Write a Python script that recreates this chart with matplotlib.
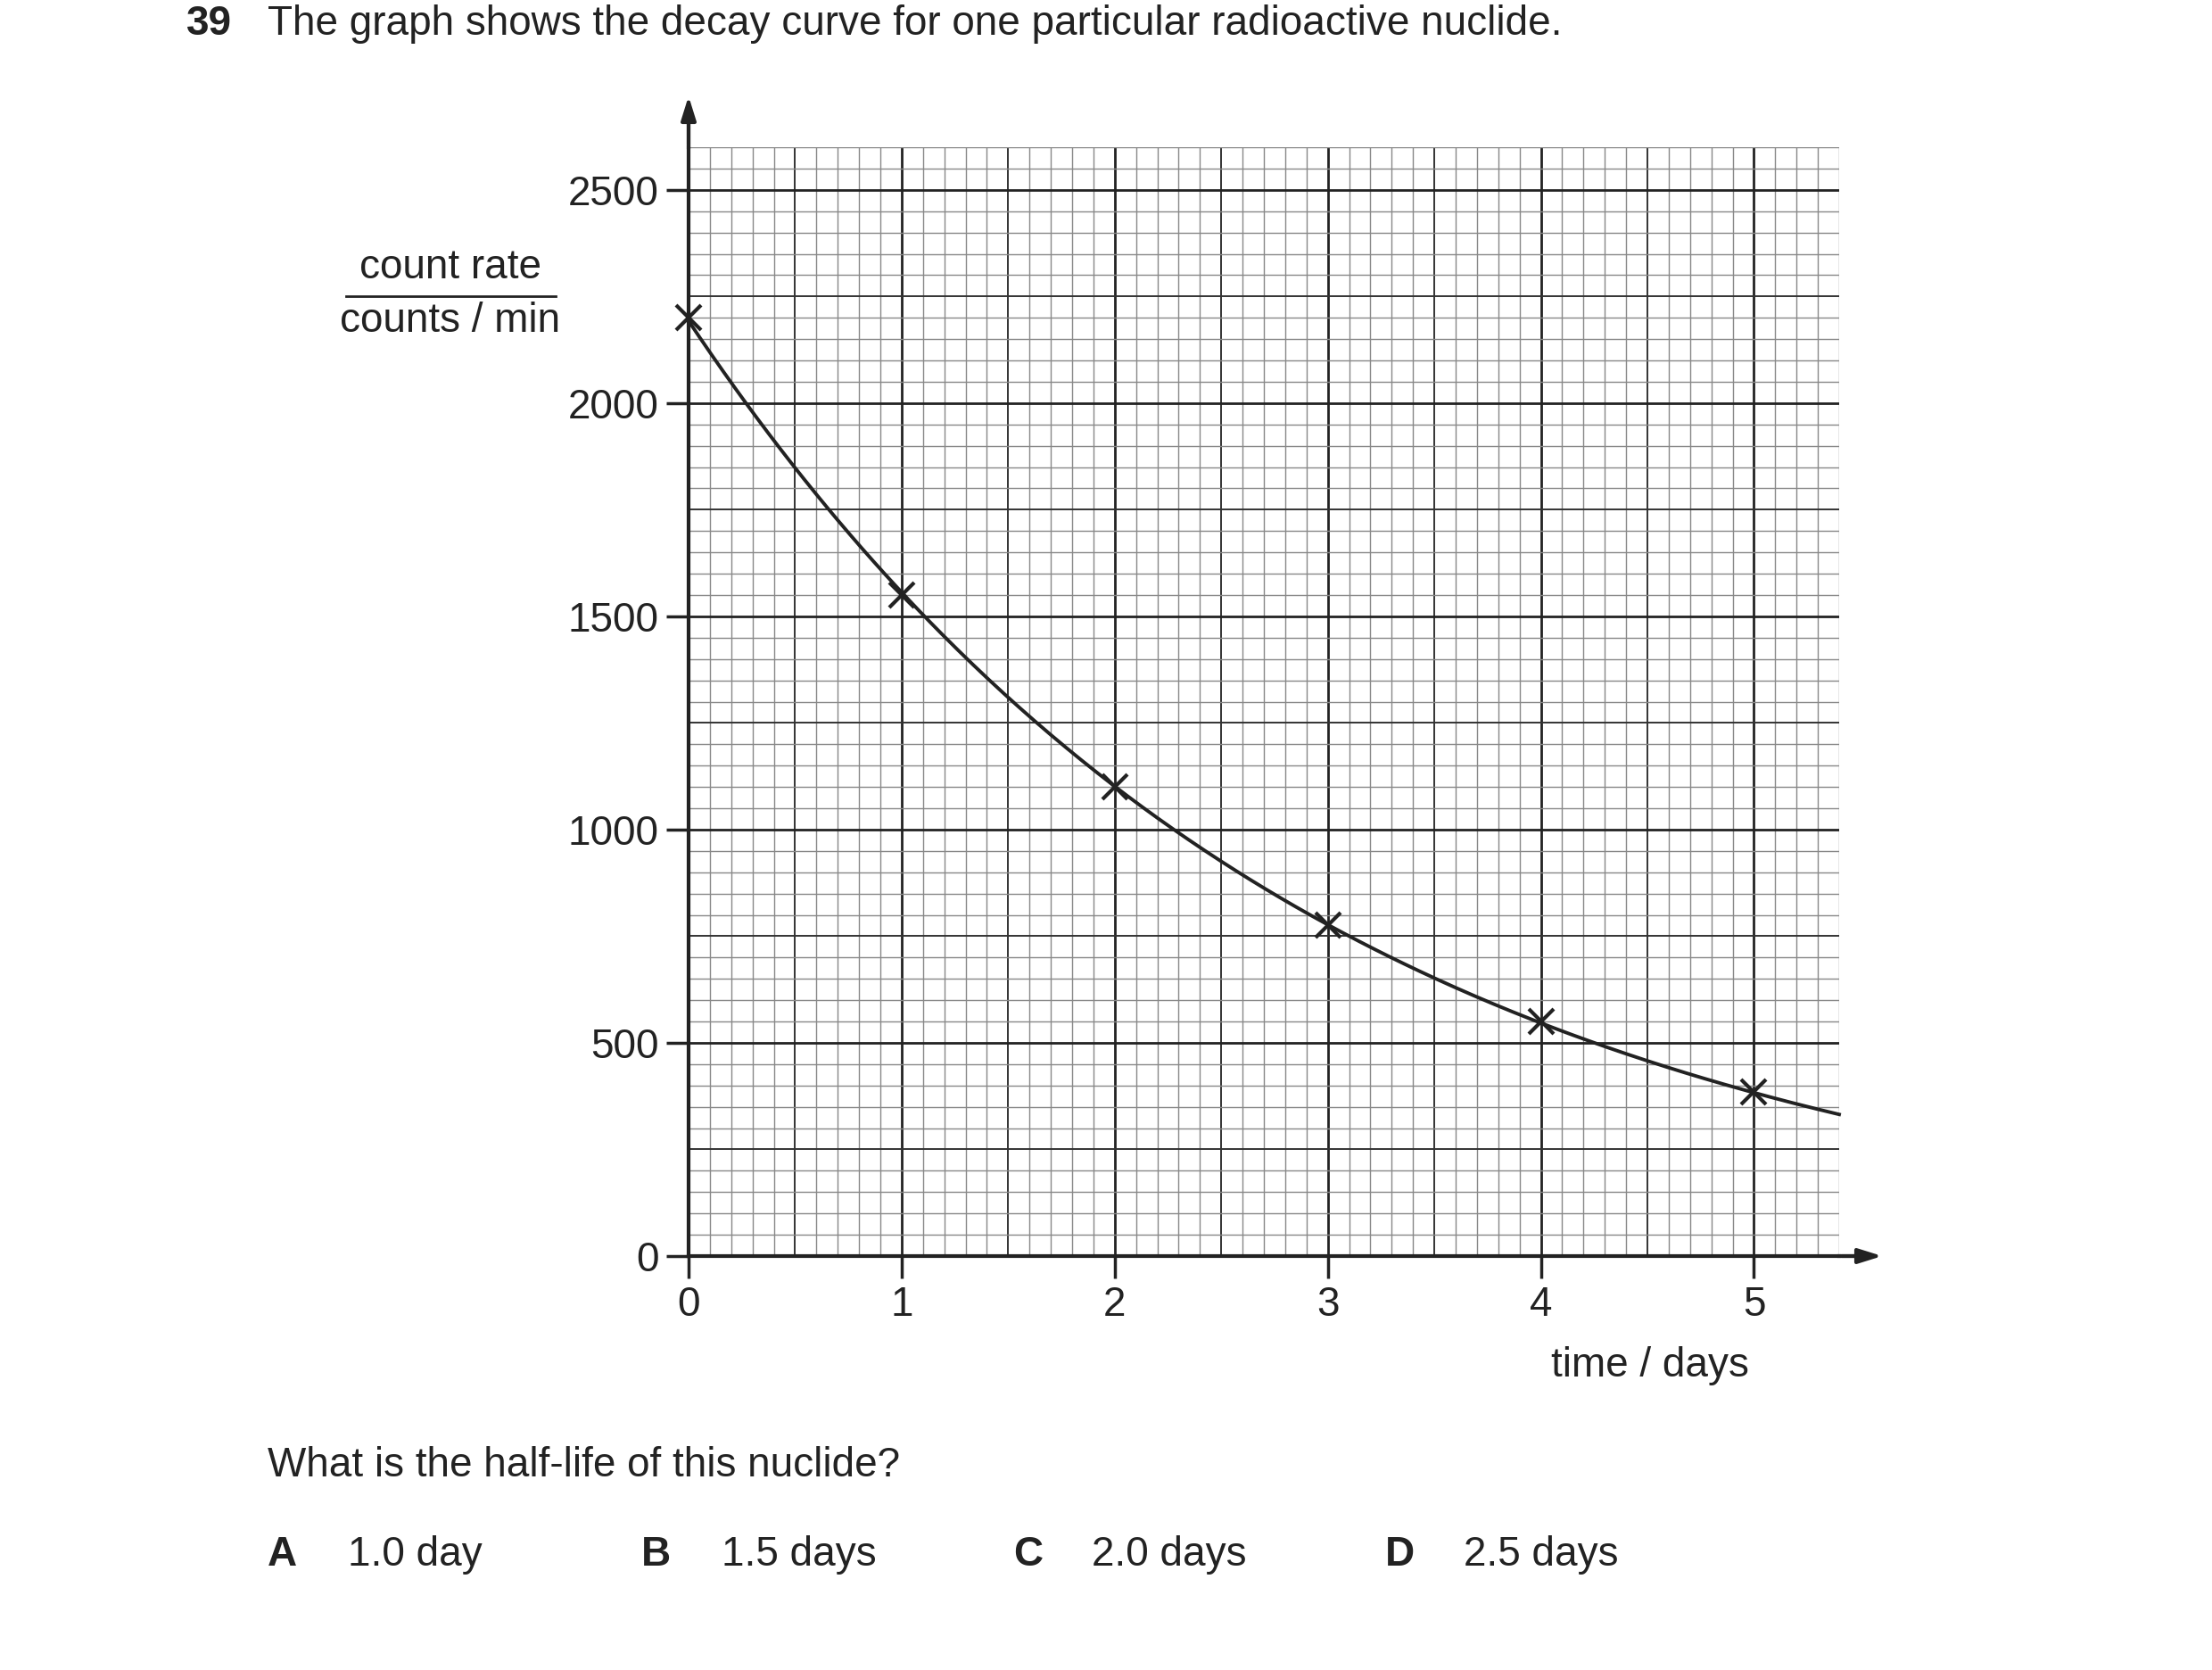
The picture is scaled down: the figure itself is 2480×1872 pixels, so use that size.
import numpy as np
import matplotlib
matplotlib.use("Agg")
import matplotlib.pyplot as plt
from matplotlib.ticker import MultipleLocator

plt.rcParams['font.family'] = ['Liberation Sans', 'DejaVu Sans']

# data
time_days = [0, 1, 2, 3, 4, 5]
count_rate = [2200, 1550, 1100, 775, 550, 385]
curve_end_x = 5.4
curve_end_y = 330
x_ticks = [0, 1, 2, 3, 4, 5]
y_ticks = [0, 500, 1000, 1500, 2000, 2500]

W, H = 2480, 1872
fig = plt.figure(figsize=(W/100, H/100), dpi=100)
ax = fig.add_axes([772/W, 1-1408/H, (2062-772)/W, (1408-165)/H])
ax.set_xlim(0, 5.4)
ax.set_ylim(0, 2600)

fs = 33
# grid
for x in np.arange(0, 5.41, 0.1):
    k = int(round(x*10))
    if k % 10 == 0:
        c, lw = '#222222', 2.0
    elif k % 5 == 0:
        c, lw = '#333333', 1.4
    else:
        c, lw = '#888888', 1.0
    ax.axvline(x, color=c, lw=lw, zorder=1)
for y in np.arange(0, 2601, 50):
    k = int(round(y/50))
    if k % 10 == 0:
        c, lw = '#222222', 2.0
    elif k % 5 == 0:
        c, lw = '#333333', 1.4
    else:
        c, lw = '#888888', 1.0
    ax.axhline(y, color=c, lw=lw, zorder=1)

for s in ['top', 'right']:
    ax.spines[s].set_visible(False)
for s in ['left', 'bottom']:
    ax.spines[s].set_linewidth(3)
    ax.spines[s].set_color('#222222')
ax.set_xticks(x_ticks)
ax.set_yticks(y_ticks)
ax.tick_params(axis='both', length=18, width=2.5, color='#222222', labelsize=fs, labelcolor='#222222', pad=6)
ax.tick_params(axis='x', direction='out')

# curve through points (log-linear smooth)
xs = np.array(time_days + [curve_end_x], float)
ys = np.log(np.array(count_rate + [curve_end_y], float))
xx = np.linspace(0, curve_end_x, 300)
coef = np.polyfit(xs, ys, 2)
ax.plot(xx, np.exp(np.polyval(coef, xx)), color='#222222', lw=2.8, zorder=3, clip_on=False)
ax.plot(time_days, count_rate, 'x', color='#222222', ms=20, mew=3, zorder=4, clip_on=False)

# axis arrows
ax.annotate('', xy=(2113/W, 1-1408/H), xytext=(2062/W, 1-1408/H), xycoords='figure fraction',
            arrowprops=dict(arrowstyle='-|>,head_length=1.6,head_width=0.5', color='#222222', lw=3))
ax.annotate('', xy=(772/W, 1-105/H), xytext=(772/W, 1-165/H), xycoords='figure fraction',
            arrowprops=dict(arrowstyle='-|>,head_length=1.6,head_width=0.5', color='#222222', lw=3))
ax.plot([0, 0], [2600, 2660], color='#222222', lw=3, clip_on=False)
ax.plot([5.4, 5.55], [0, 0], color='#222222', lw=3, clip_on=False)

def T(x, y, s, **kw):
    fig.text(x/W, 1-y/H, s, fontsize=fs, color='#222222', va='center', **kw)

T(209, 27, '39', weight='bold')
T(300, 27, 'The graph shows the decay curve for one particular radioactive nuclide.')
T(505, 300, 'count rate', ha='center')
T(505, 360, 'counts / min', ha='center')
fig.add_artist(plt.Line2D([388/W, 623/W], [1-332/H, 1-332/H], color='#222222', lw=2))
T(1850, 1531, 'time / days', ha='center')
T(300, 1643, 'What is the half-life of this nuclide?')
for lx, l, tx, t in [(300, 'A', 390, '1.0 day'), (719, 'B', 809, '1.5 days'),
                     (1136, 'C', 1224, '2.0 days'), (1553, 'D', 1641, '2.5 days')]:
    T(lx, 1743, l, weight='bold')
    T(tx, 1743, t)

fig.savefig('out.png', dpi=100, facecolor='white')
